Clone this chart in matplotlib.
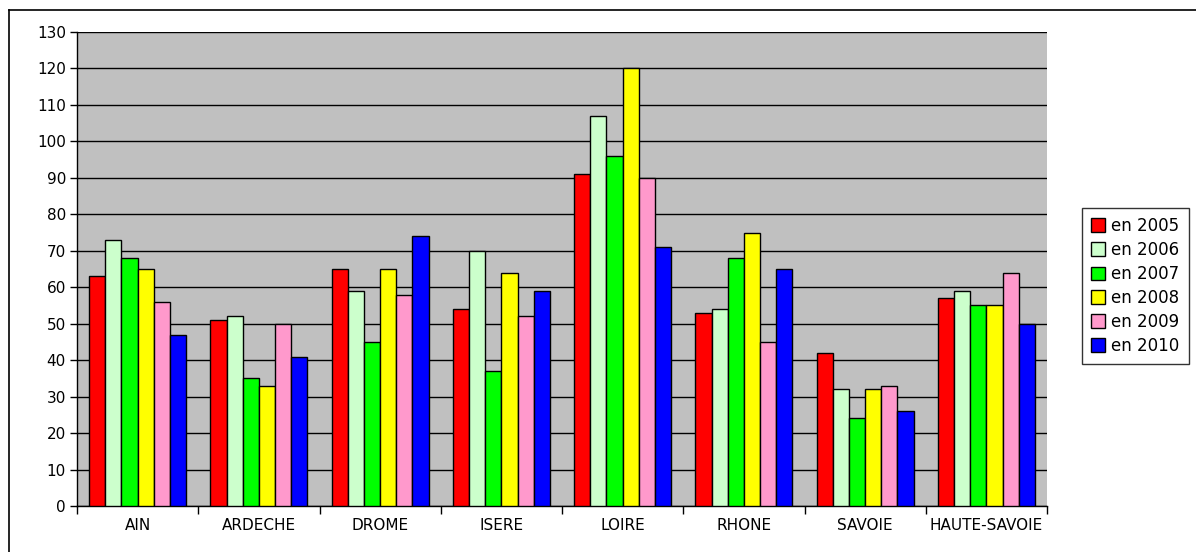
import matplotlib
matplotlib.use("Agg")

import matplotlib.pyplot as plt
import numpy as np
from matplotlib.lines import Line2D
from matplotlib.patches import Patch

departements = ["AIN", "ARDECHE", "DROME", "ISERE", "LOIRE", "RHONE",
                "SAVOIE", "HAUTE-SAVOIE"]
years = ["en 2005", "en 2006", "en 2007", "en 2008", "en 2009", "en 2010"]

v2005 = [63, 51, 65, 54, 91, 53, 42, 57]
v2006 = [73, 52, 59, 70, 107, 54, 32, 59]
v2007 = [68, 35, 45, 37, 96, 68, 24, 55]
v2008 = [65, 33, 65, 64, 120, 75, 32, 55]
v2009 = [56, 50, 58, 52, 90, 45, 33, 64]
v2010 = [47, 41, 74, 59, 71, 65, 26, 50]

colors = ["#FF0000", "#CCFFCC", "#00FF00", "#FFFF00", "#FF99CC", "#0000FF"]

# the original text is wide, DejaVu Sans gets closest
plt.rcParams["font.family"] = ["DejaVu Sans"]

W, H = 1196, 552
fig = plt.figure(figsize=(W / 100, H / 100), dpi=100)
ax = fig.add_axes([77 / W, 1 - 506 / H, 970 / W, 474 / H])
ax.set_facecolor("#C0C0C0")

series = [v2005, v2006, v2007, v2008, v2009, v2010]
x = np.arange(len(departements))
bw = 0.8 / len(series)
for i, (vals, col, lab) in enumerate(zip(series, colors, years)):
    ax.bar(x - 0.4 + bw * (i + 0.5), vals, width=bw, color=col,
           edgecolor="black", linewidth=1.0, label=lab, zorder=3)

ax.set_xlim(-0.5, len(departements) - 0.5)
ax.set_ylim(0, 130)
ax.set_yticks(np.arange(0, 131, 10))
ax.yaxis.grid(True, color="black", linewidth=1.0, zorder=1)
ax.set_axisbelow(True)

# ticks at category boundaries, labels at centres
ax.set_xticks(np.arange(-0.5, len(departements), 1.0))
ax.set_xticklabels([])
ax.set_xticks(x, minor=True)
ax.set_xticklabels(departements, minor=True)
ax.tick_params(axis="x", which="major", length=6, width=1, color="black")
ax.tick_params(axis="x", which="minor", length=0, pad=9, labelsize=11)
ax.tick_params(axis="y", length=5, width=1, labelsize=11, pad=3)

for s in ["top", "right"]:
    ax.spines[s].set_visible(False)
ax.spines["left"].set_linewidth(1.0)
ax.spines["bottom"].set_linewidth(1.0)

handles = [Patch(facecolor=c, edgecolor="black", label=l)
           for c, l in zip(colors, years)]
leg = fig.legend(handles=handles, loc="upper left",
                 bbox_to_anchor=(1082 / W, 1 - 208 / H),
                 fontsize=12, frameon=True, fancybox=False,
                 handlelength=0.8, handleheight=0.9, handletextpad=0.4,
                 labelspacing=0.36, borderpad=0.55, borderaxespad=0)
leg.get_frame().set_edgecolor("black")
leg.get_frame().set_linewidth(1.0)

# outer frame of the chart object
fig.add_artist(Line2D([9 / W, 1.0], [1 - 10 / H, 1 - 10 / H],
                      transform=fig.transFigure, color="black", linewidth=1.2))
fig.add_artist(Line2D([9 / W, 9 / W], [1 - 10 / H, 0.0],
                      transform=fig.transFigure, color="black", linewidth=1.2))

fig.savefig("out.png", dpi=100)
